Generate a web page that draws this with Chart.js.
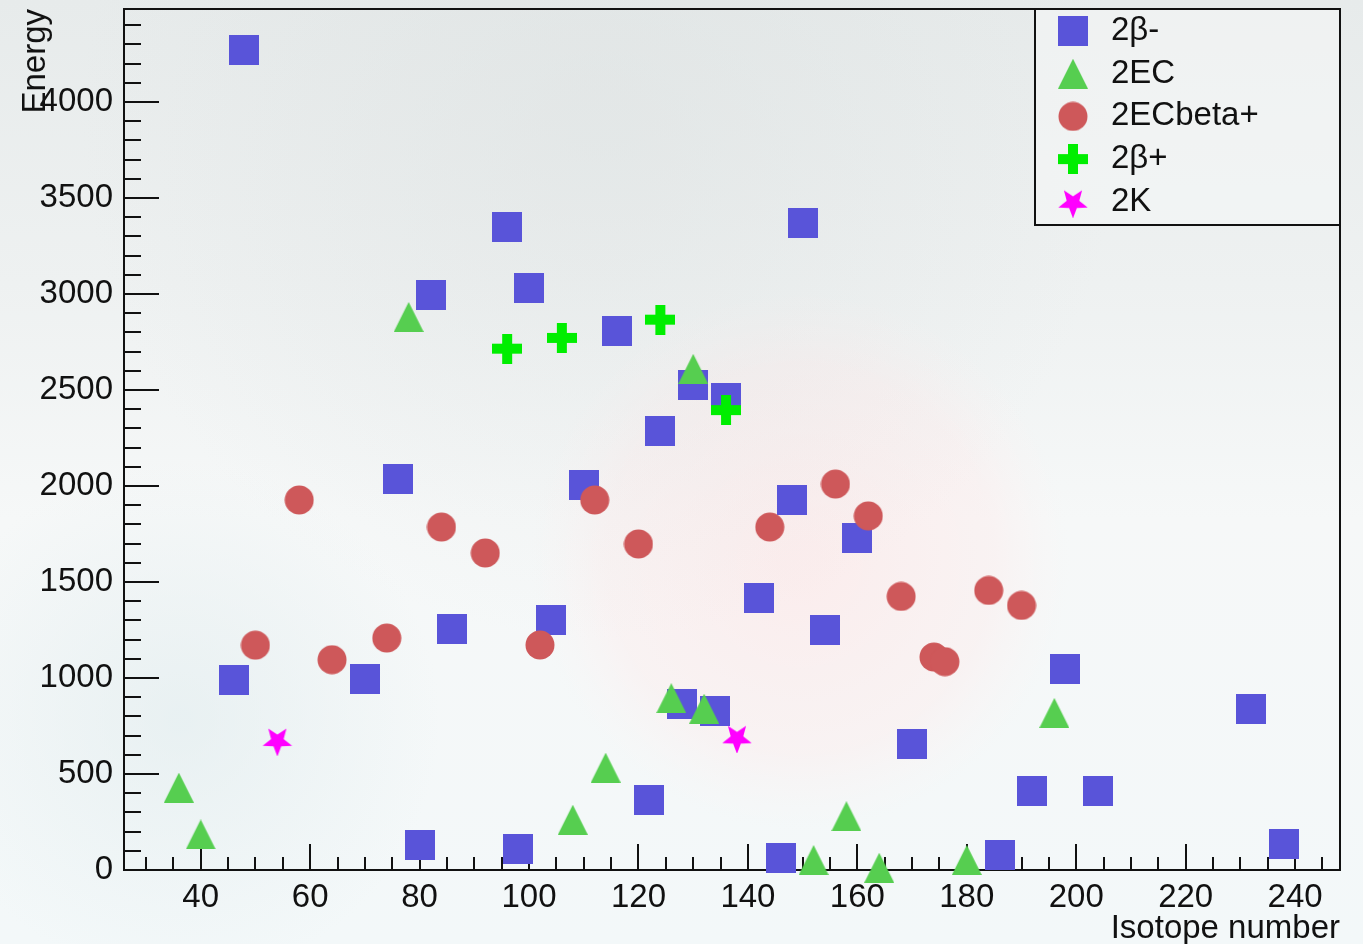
<!DOCTYPE html>
<html>
<head>
<meta charset="utf-8">
<title>Energy vs isotope number</title>
<script src="https://cdn.jsdelivr.net/npm/chart.js@4.4.1/dist/chart.umd.min.js"></script>
<style>
  html, body { margin: 0; padding: 0; overflow: hidden; background: #f2f5f5; }
  canvas { display: block; }
</style>
</head>
<body>
<canvas id="chart" width="1363" height="944"></canvas>
<script>
// Double-beta decay candidates: isotope mass number vs decay energy (keV)
const betaMinusA = [46, 48, 70, 76, 80, 82, 86, 96, 98, 100, 104, 110, 116, 122, 124, 128,
                    130, 134, 136, 142, 146, 148, 150, 154, 160, 170, 186, 192, 198, 204, 232, 238];
const betaMinusQ = [988, 4270, 997, 2035, 130, 2995, 1256, 3350, 110, 3030, 1300, 2004, 2805, 364, 2285, 866,
                    2528, 826, 2460, 1414, 65, 1928, 3368, 1250, 1730, 654, 80, 413, 1045, 414, 840, 137];

const ecA = [36, 40, 78, 108, 114, 126, 130, 132, 152, 158, 164, 180, 196];
const ecQ = [429, 185, 2880, 262, 533, 895, 2610, 840, 52, 280, 12, 52, 818];

const ecBetaPlusA = [50, 58, 64, 74, 84, 92, 102, 112, 120, 144, 156, 162, 168, 174, 176, 184, 190];
const ecBetaPlusQ = [1171, 1927, 1095, 1208, 1786, 1651, 1172, 1927, 1698, 1786, 2010, 1844, 1425, 1109, 1085, 1456, 1378];

const betaPlusA = [96, 106, 124, 136];
const betaPlusQ = [2715, 2771, 2866, 2395];

const kCaptureA = [54, 138];
const kCaptureQ = [677, 691];

const seriesNames = ['2\u03b2-', '2EC', '2ECbeta+', '2\u03b2+', '2K'];

// labelled tick values and the minor-tick spacing of each axis
const xTickValues = [40, 60, 80, 100, 120, 140, 160, 180, 200, 220, 240];
const yTickValues = [0, 500, 1000, 1500, 2000, 2500, 3000, 3500, 4000];
const xMinorStep = 5;
const yMinorStep = 100;

const FONT = '"Liberation Sans", Arial, Helvetica, sans-serif';

// ---- marker glyphs ----
function makeMarker(size, draw) {
  const c = document.createElement('canvas');
  c.width = size; c.height = size;
  const g = c.getContext('2d');
  draw(g, size);
  return c;
}
const squareMarker = makeMarker(30, (g, s) => {
  g.fillStyle = 'rgb(89,84,217)';
  g.fillRect(0, 0, s, s);
});
const triangleMarker = makeMarker(30, (g, s) => {
  g.fillStyle = 'rgb(86,206,80)';
  g.beginPath();
  g.moveTo(s / 2, 0); g.lineTo(s, s); g.lineTo(0, s); g.closePath();
  g.fill();
});
const circleMarker = makeMarker(30, (g, s) => {
  g.fillStyle = 'rgb(206,88,90)';
  g.beginPath();
  g.arc(s / 2, s / 2, 14.5, 0, Math.PI * 2);
  g.fill();
});
const crossMarker = makeMarker(30, (g, s) => {
  g.fillStyle = 'rgb(0,238,0)';
  g.fillRect(0, 10, s, 10);
  g.fillRect(10, 0, 10, s);
});
const starMarker = makeMarker(32, (g, s) => {
  g.fillStyle = 'rgb(255,0,255)';
  const cx = s / 2, cy = s / 2 + 1, ro = 15.5, ri = 6.6;
  g.beginPath();
  for (let i = 0; i < 10; i++) {
    const r = i % 2 === 0 ? ro : ri;
    const ang = Math.PI / 2 + i * Math.PI / 5; // first point straight down
    const px = cx + r * Math.cos(ang), py = cy + r * Math.sin(ang);
    if (i === 0) g.moveTo(px, py); else g.lineTo(px, py);
  }
  g.closePath();
  g.fill();
});

function toPoints(xs, ys) { return xs.map((v, i) => ({ x: v, y: ys[i] })); }

// ---- plugins ----
const backdrop = {
  id: 'backdrop',
  beforeDraw(chart) {
    const { ctx, width: W, height: H } = chart;
    ctx.save();
    const lg = ctx.createLinearGradient(0, 0, 0, H);
    lg.addColorStop(0, '#e7ebeb');
    lg.addColorStop(0.3, '#eef1f1');
    lg.addColorStop(0.55, '#f6f8f8');
    lg.addColorStop(1, '#f3f8f9');
    ctx.fillStyle = lg;
    ctx.fillRect(0, 0, W, H);
    // soft pink glow behind the middle of the plot
    let rg = ctx.createRadialGradient(800, 560, 20, 800, 560, 270);
    rg.addColorStop(0, 'rgba(255,228,228,0.55)');
    rg.addColorStop(0.7, 'rgba(255,232,232,0.35)');
    rg.addColorStop(1, 'rgba(255,240,240,0)');
    ctx.fillStyle = rg;
    ctx.fillRect(0, 0, W, H);
    // faint cloudy band along the top
    rg = ctx.createRadialGradient(600, 120, 30, 600, 120, 520);
    rg.addColorStop(0, 'rgba(215,220,220,0.35)');
    rg.addColorStop(1, 'rgba(215,220,220,0)');
    ctx.fillStyle = rg;
    ctx.fillRect(0, 0, W, H);
    // cool tint near the lower left
    rg = ctx.createRadialGradient(180, 720, 10, 180, 720, 260);
    rg.addColorStop(0, 'rgba(225,236,238,0.6)');
    rg.addColorStop(1, 'rgba(225,236,238,0)');
    ctx.fillStyle = rg;
    ctx.fillRect(0, 0, W, H);
    ctx.restore();
  }
};

function isLabelled(values, v) { return values.some(t => Math.abs(t - v) < 1e-6); }

const frameAndTicks = {
  id: 'frameAndTicks',
  beforeDatasetsDraw(chart) {
    const { ctx, chartArea: a, scales: { x, y } } = chart;
    ctx.save();
    ctx.strokeStyle = '#111';
    ctx.lineWidth = 2;
    ctx.beginPath();
    // ticks along the bottom axis, pointing into the frame
    for (let v = Math.ceil(x.min / xMinorStep) * xMinorStep; v <= x.max + 1e-9; v += xMinorStep) {
      const px = Math.round(x.getPixelForValue(v));
      const len = isLabelled(xTickValues, v) ? 26 : 13;
      ctx.moveTo(px, a.bottom);
      ctx.lineTo(px, a.bottom - len);
    }
    // ticks along the left axis
    for (let v = Math.ceil(y.min / yMinorStep) * yMinorStep; v <= y.max + 1e-9; v += yMinorStep) {
      const py = Math.round(y.getPixelForValue(v));
      const len = isLabelled(yTickValues, v) ? 36 : 18;
      ctx.moveTo(a.left, py);
      ctx.lineTo(a.left + len, py);
    }
    ctx.stroke();
    ctx.strokeRect(a.left + 1, a.top, a.right - a.left - 1, a.bottom - a.top);
    ctx.restore();
  }
};

const boxLegend = {
  id: 'boxLegend',
  afterDatasetsDraw(chart, args, opts) {
    const { ctx, chartArea: a } = chart;
    const left = a.right - opts.width, top = a.top;
    ctx.save();
    ctx.fillStyle = 'rgba(246,248,248,0.55)';
    ctx.fillRect(left, top, opts.width, opts.height);
    ctx.strokeStyle = '#111';
    ctx.lineWidth = 2;
    ctx.strokeRect(left, top, opts.width, opts.height);
    ctx.font = opts.fontSize + 'px ' + FONT;
    ctx.textBaseline = 'middle';
    ctx.textAlign = 'left';
    chart.data.datasets.forEach((ds, i) => {
      const cy = top + opts.firstRow + i * opts.rowGap;
      Chart.helpers.drawPoint(ctx, { pointStyle: ds.pointStyle, radius: 15, rotation: 0, borderWidth: 0 },
        left + opts.markerX, cy);
      ctx.fillStyle = '#111';
      ctx.fillText(ds.label, left + opts.textX, cy);
    });
    ctx.restore();
  }
};

Chart.defaults.color = '#111';
Chart.defaults.font.family = FONT;

new Chart(document.getElementById('chart'), {
  type: 'scatter',
  data: {
    datasets: [
      { label: seriesNames[0], data: toPoints(betaMinusA, betaMinusQ), pointStyle: squareMarker, order: 5 },
      { label: seriesNames[1], data: toPoints(ecA, ecQ), pointStyle: triangleMarker, order: 4 },
      { label: seriesNames[2], data: toPoints(ecBetaPlusA, ecBetaPlusQ), pointStyle: circleMarker, order: 3 },
      { label: seriesNames[3], data: toPoints(betaPlusA, betaPlusQ), pointStyle: crossMarker, order: 2 },
      { label: seriesNames[4], data: toPoints(kCaptureA, kCaptureQ), pointStyle: starMarker, order: 1 }
    ]
  },
  options: {
    responsive: false,
    animation: false,
    devicePixelRatio: 1,
    events: [],
    clip: false,
    layout: { autoPadding: false, padding: { top: 9, right: 23, left: 0, bottom: 0 } },
    elements: { point: { radius: 15, hoverRadius: 15, borderWidth: 0 } },
    plugins: {
      legend: { display: false },
      tooltip: { enabled: false },
      boxLegend: { width: 305, height: 216, markerX: 38, textX: 76, firstRow: 22, rowGap: 42.7, fontSize: 33 }
    },
    scales: {
      x: {
        type: 'linear',
        min: 25.8,
        max: 248.2,
        grid: { display: false, drawTicks: false },
        border: { display: false },
        afterBuildTicks(scale) { scale.ticks = xTickValues.map(v => ({ value: v })); },
        ticks: {
          padding: 8,
          maxRotation: 0,
          autoSkip: false,
          font: { size: 33 },
          callback: v => String(v)
        },
        title: {
          display: true,
          text: 'Isotope number',
          align: 'end',
          font: { size: 33 },
          padding: { top: 0, bottom: -5 }
        },
        afterFit(scale) {
          scale.height = 74;
          scale.paddingLeft = 0;
          scale.paddingRight = 0;
        }
      },
      y: {
        type: 'linear',
        min: 0,
        max: 4484,
        grid: { display: false, drawTicks: false },
        border: { display: false },
        afterBuildTicks(scale) { scale.ticks = yTickValues.map(v => ({ value: v })); },
        ticks: {
          padding: 10,
          autoSkip: false,
          font: { size: 33 },
          callback: v => String(v)
        },
        title: {
          display: true,
          text: 'Energy',
          align: 'end',
          font: { size: 33 },
          padding: { top: 16, bottom: 0 }
        },
        afterFit(scale) {
          scale.width = 123;
          scale.paddingTop = 0;
          scale.paddingBottom = 0;
        }
      }
    }
  },
  plugins: [backdrop, frameAndTicks, boxLegend]
});
</script>
</body>
</html>
